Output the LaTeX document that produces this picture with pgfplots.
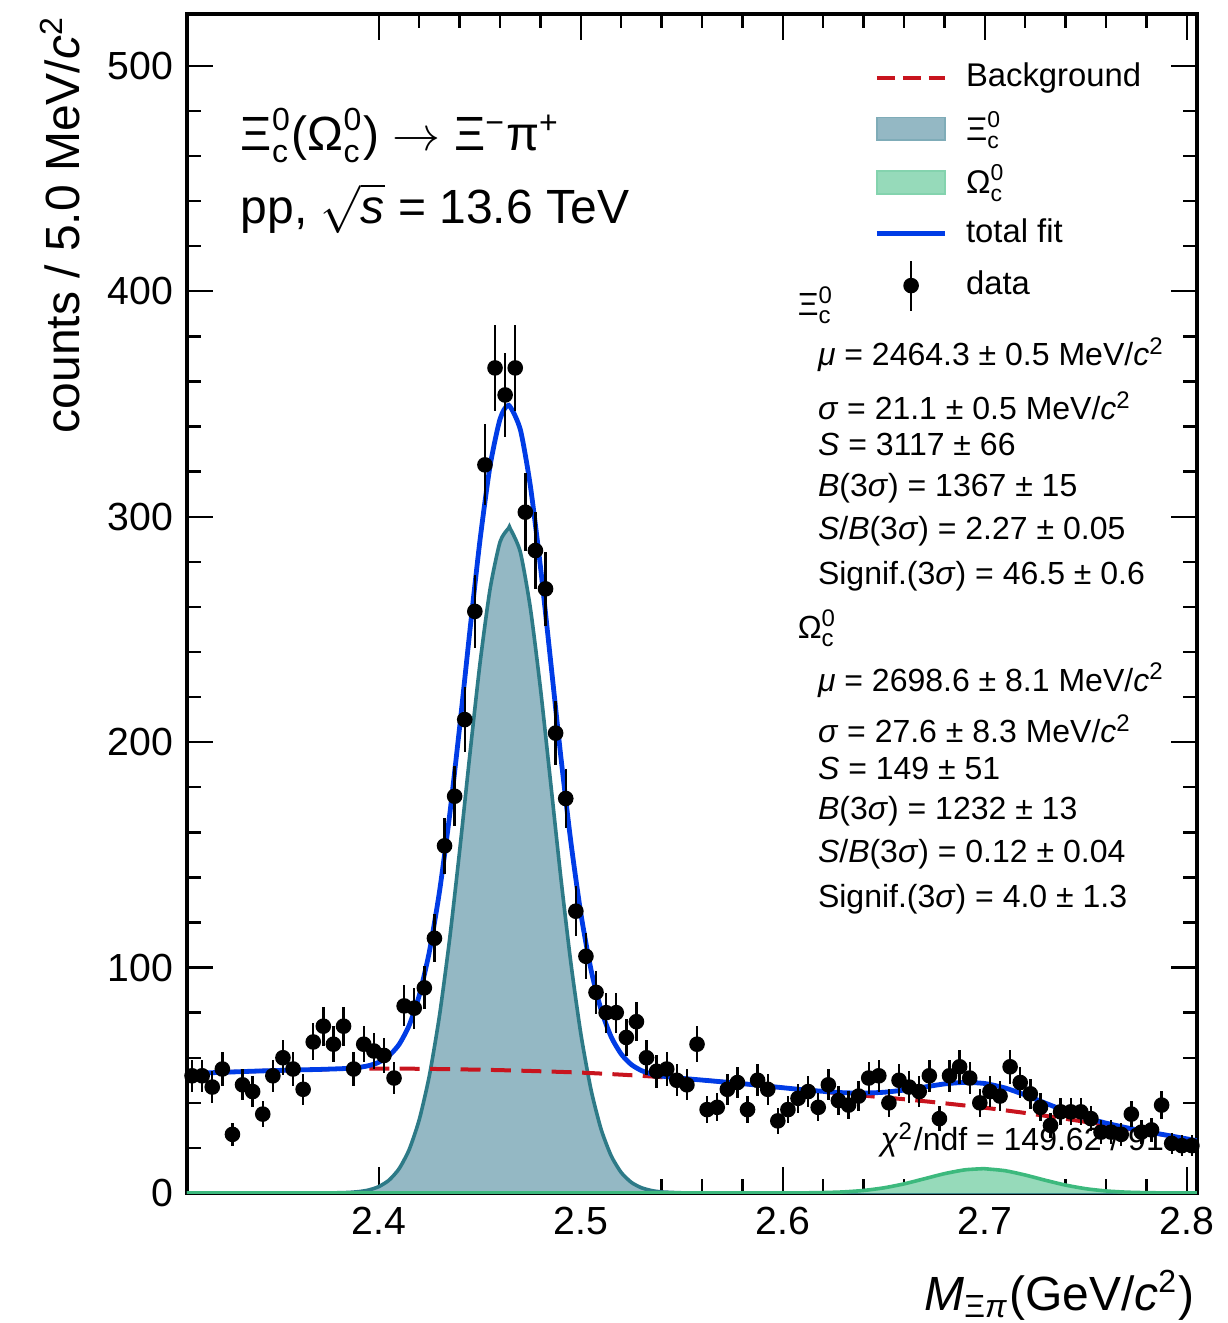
\documentclass[border=0pt]{standalone}
\usepackage{fontspec}
\setmainfont{Liberation Sans}
\usepackage{amsmath}
\usepackage{pgfplots}
\usepackage{pgfplotstable}
\pgfplotsset{compat=1.18}

\definecolor{tealfill}{RGB}{148,184,196}
\definecolor{tealline}{RGB}{45,122,135}
\definecolor{greenfill}{RGB}{150,218,186}
\definecolor{greenline}{RGB}{60,185,125}
\definecolor{bgred}{RGB}{200,20,30}
\definecolor{fitblue}{RGB}{0,60,230}

\newcommand{\Xic}{\ensuremath{\text{Ξ}^{\text{0}}_{\text{c}}}}
\newcommand{\Omc}{\ensuremath{\text{Ω}^{\text{0}}_{\text{c}}}}

% data: bin centre, counts, stat. error
\pgfplotstableread{
x y e
2.3075 52 7.2
2.3125 52 7.2
2.3175 47 6.9
2.3225 55 7.4
2.3275 26 5.1
2.3325 48 6.9
2.3375 45 6.7
2.3425 35 5.9
2.3475 52 7.2
2.3525 60 7.7
2.3575 55 7.4
2.3625 46 6.8
2.3675 67 8.2
2.3725 74 8.6
2.3775 66 8.1
2.3825 74 8.6
2.3875 55 7.4
2.3925 66 8.1
2.3975 63 7.9
2.4025 61 7.8
2.4075 51 7.1
2.4125 83 9.1
2.4175 82 9.1
2.4225 91 9.5
2.4275 113 10.6
2.4325 154 12.4
2.4375 176 13.3
2.4425 210 14.5
2.4475 258 16.1
2.4525 323 18.0
2.4575 366 19.1
2.4625 354 18.8
2.4675 366 19.1
2.4725 302 17.4
2.4775 285 16.9
2.4825 268 16.4
2.4875 204 14.3
2.4925 175 13.2
2.4975 125 11.2
2.5025 105 10.2
2.5075 89 9.4
2.5125 80 8.9
2.5175 80 8.9
2.5225 69 8.3
2.5275 76 8.7
2.5325 60 7.7
2.5375 54 7.3
2.5425 55 7.4
2.5475 50 7.1
2.5525 48 6.9
2.5575 66 8.1
2.5625 37 6.1
2.5675 38 6.2
2.5725 46 6.8
2.5775 49 7.0
2.5825 37 6.1
2.5875 50 7.1
2.5925 46 6.8
2.5975 32 5.7
2.6025 37 6.1
2.6075 42 6.5
2.6125 45 6.7
2.6175 38 6.2
2.6225 48 6.9
2.6275 41 6.4
2.6325 39 6.2
2.6375 43 6.6
2.6425 51 7.1
2.6475 52 7.2
2.6525 40 6.3
2.6575 50 7.1
2.6625 47 6.9
2.6675 45 6.7
2.6725 52 7.2
2.6775 33 5.7
2.6825 52 7.2
2.6875 56 7.5
2.6925 51 7.1
2.6975 40 6.3
2.7025 45 6.7
2.7075 43 6.6
2.7125 56 7.5
2.7175 49 7.0
2.7225 44 6.6
2.7275 38 6.2
2.7325 30 5.5
2.7375 36 6.0
2.7425 36 6.0
2.7475 36 6.0
2.7525 33 5.7
2.7575 27 5.2
2.7625 27 5.2
2.7675 26 5.1
2.7725 35 5.9
2.7775 27 5.2
2.7825 28 5.3
2.7875 39 6.2
2.7925 22 4.7
2.7975 21 4.6
2.8025 21 4.6
}\datatab

% Xi_c signal component
\pgfplotstableread{
x y
2.305 0
2.35 0
2.36 0.00
2.37 0.01
2.38 0.10
2.385 0.25
2.39 0.60
2.395 1.34
2.40 2.84
2.405 5.68
2.41 10.76
2.415 19.26
2.42 32.6
2.425 52.1
2.43 78.7
2.435 112.5
2.44 152.0
2.445 194.2
2.45 234.5
2.455 267.7
2.46 288.9
2.4643 295.0
2.465 294.8
2.47 284.4
2.475 259.4
2.48 223.7
2.485 182.3
2.49 140.5
2.495 102.4
2.50 70.5
2.505 45.9
2.51 28.3
2.515 16.5
2.52 9.06
2.525 4.70
2.53 2.32
2.535 1.08
2.54 0.47
2.55 0.08
2.56 0.01
2.57 0
2.805 0
}\xitab

% Omega_c signal component
\pgfplotstableread{
x y
2.305 0
2.59 0
2.60 0.02
2.61 0.06
2.62 0.19
2.63 0.49
2.64 1.13
2.65 2.29
2.66 4.05
2.67 6.30
2.68 8.58
2.69 10.26
2.6986 10.77
2.70 10.76
2.71 9.89
2.72 7.97
2.73 5.64
2.74 3.50
2.75 1.90
2.76 0.91
2.77 0.38
2.78 0.14
2.79 0.05
2.80 0.01
2.805 0
}\omtab

% background
\pgfplotstableread{
x y
2.305 53.0
2.32 53.45
2.34 54.1
2.36 54.6
2.38 55.0
2.40 55.2
2.42 55.1
2.44 54.85
2.46 54.5
2.48 54.0
2.50 53.4
2.52 52.5
2.54 51.4
2.56 50.1
2.58 48.5
2.60 46.7
2.62 44.9
2.64 43.2
2.66 41.6
2.68 39.8
2.70 37.8
2.72 35.5
2.74 32.9
2.76 30.1
2.78 27.1
2.80 24.0
2.805 23.2
}\bgtab

% total fit
\pgfplotstableread{
x y
2.305 53.0
2.32 53.45
2.34 54.1
2.36 54.6
2.37 54.8
2.38 55.1
2.385 55.3
2.39 55.7
2.395 56.5
2.40 58.0
2.405 60.9
2.41 65.9
2.415 74.4
2.42 87.7
2.425 107.1
2.43 133.7
2.435 167.4
2.44 206.9
2.445 249.0
2.45 289.2
2.455 322.3
2.46 343.4
2.4643 349.4
2.47 338.7
2.475 313.6
2.48 277.7
2.485 236.2
2.49 194.2
2.495 156.0
2.50 123.9
2.505 99.1
2.51 81.3
2.515 69.25
2.52 61.6
2.525 56.95
2.53 54.3
2.535 52.78
2.54 51.87
2.55 50.88
2.56 50.1
2.58 48.5
2.60 46.7
2.61 45.8
2.62 45.09
2.63 44.49
2.64 44.33
2.65 44.69
2.66 45.65
2.67 47.0
2.68 48.38
2.69 49.06
2.70 48.56
2.71 46.59
2.72 43.47
2.73 39.84
2.74 36.4
2.75 33.4
2.76 31.0
2.77 28.98
2.78 27.24
2.79 25.65
2.80 24.01
2.805 23.2
}\fittab

\begin{document}
\begin{tikzpicture}
\begin{axis}[
  scale only axis, width=252.5pt, height=294.75pt,
  xmin=2.305, xmax=2.805, ymin=0, ymax=523,
  xtick={2.4,2.5,2.6,2.7,2.8}, ytick={0,100,...,500},
  minor x tick num=4, minor y tick num=4,
  tick align=inside, major tick length=6.5pt, minor tick length=3.4pt,
  axis line style={line width=0.8pt}, tick style={line width=0.6pt, black},
  /pgf/number format/assume math mode=true,
  /pgf/number format/fixed,
  ticklabel style={font=\fontsize{9.8}{11}\selectfont},
  legend style={at={(rel axis cs:0.680,0.966)}, anchor=north west, draw=none, fill=none,
    font=\fontsize{8.2}{10}\selectfont, row sep=0.7pt, inner sep=0pt,
    /tikz/every odd column/.append style={column sep=2.6pt}},
  legend cell align=left,
]
\addlegendimage{bgred, line width=1pt, dash pattern=on 4.5pt off 2pt}
\addlegendentry{Background}
\addlegendimage{area legend, fill=tealfill, draw=tealfill!80!tealline}
\addlegendentry{\Xic}
\addlegendimage{area legend, fill=greenfill, draw=greenfill!80!greenline}
\addlegendentry{\Omc}
\addlegendimage{fitblue, line width=1.2pt}
\addlegendentry{total fit}
\addlegendimage{legend image code/.code={
  \draw[black, line width=0.6pt] (0.3cm,-0.22cm) -- (0.3cm,0.22cm);
  \fill[black] (0.3cm,0cm) circle (1.75pt);}}
\addlegendentry{data}

\addplot[forget plot, draw=tealline, line width=0.9pt, fill=tealfill, smooth, tension=0.4] table[x=x,y=y]{\xitab};
\addplot[forget plot, draw=greenline, line width=0.9pt, fill=greenfill, smooth, tension=0.4] table[x=x,y=y]{\omtab};
\addplot[forget plot, bgred, line width=1pt, dash pattern=on 5pt off 2.6pt, smooth] table[x=x,y=y]{\bgtab};
\addplot[forget plot, fitblue, line width=1.2pt, smooth, tension=0.4] table[x=x,y=y]{\fittab};

\node[anchor=west, inner sep=0pt, font=\fontsize{8}{10}\selectfont] at (rel axis cs:0.686,0.045)
  {\textit{χ}\textsuperscript{2}/ndf = 149.62 / 91};

\addplot[forget plot, only marks, mark=*, black, mark size=1.75pt,
  error bars/.cd, y dir=both, y explicit, error mark=none,
  error bar style={line width=0.6pt, black}]
  table[x=x,y=y,y error=e]{\datatab};

\node[anchor=west, inner sep=0pt, font=\fontsize{12}{14}\selectfont] at (rel axis cs:0.0525,0.897)
  {\Xic(\Omc) $\rightarrow$ Ξ\textsuperscript{−}π\textsuperscript{+}};
\node[anchor=west, inner sep=0pt, font=\fontsize{12}{14}\selectfont] at (rel axis cs:0.0525,0.835)
  {pp, $\sqrt{\text{\textit{s}}}$ = 13.6 TeV};

\begin{scope}[font=\fontsize{8}{10}\selectfont, every node/.style={anchor=west, inner sep=0pt}]
\node at (rel axis cs:0.604,0.753) {\Xic};
\node at (rel axis cs:0.624,0.711) {\textit{μ} = 2464.3 ± 0.5 MeV/\textit{c}\textsuperscript{2}};
\node at (rel axis cs:0.624,0.668) {\textit{σ} = 21.1 ± 0.5 MeV/\textit{c}\textsuperscript{2}};
\node at (rel axis cs:0.624,0.635) {\textit{S} = 3117 ± 66};
\node at (rel axis cs:0.624,0.598) {\textit{B}(3\textit{σ}) = 1367 ± 15};
\node at (rel axis cs:0.624,0.561) {\textit{S}/\textit{B}(3\textit{σ}) = 2.27 ± 0.05};
\node at (rel axis cs:0.624,0.523) {Signif.(3\textit{σ}) = 46.5 ± 0.6};
\node at (rel axis cs:0.604,0.479) {\Omc};
\node at (rel axis cs:0.624,0.435) {\textit{μ} = 2698.6 ± 8.1 MeV/\textit{c}\textsuperscript{2}};
\node at (rel axis cs:0.624,0.394) {\textit{σ} = 27.6 ± 8.3 MeV/\textit{c}\textsuperscript{2}};
\node at (rel axis cs:0.624,0.360) {\textit{S} = 149 ± 51};
\node at (rel axis cs:0.624,0.324) {\textit{B}(3\textit{σ}) = 1232 ± 13};
\node at (rel axis cs:0.624,0.287) {\textit{S}/\textit{B}(3\textit{σ}) = 0.12 ± 0.04};
\node at (rel axis cs:0.624,0.249) {Signif.(3\textit{σ}) = 4.0 ± 1.3};
\end{scope}
\end{axis}

\node[rotate=90, anchor=east, inner sep=0pt, font=\fontsize{12}{14}\selectfont]
  at ([xshift=-31.75pt, yshift=-0.3pt]current axis.north west)
  {counts / 5.0 MeV/\textit{c}\textsuperscript{2}};
\node[anchor=base east, inner sep=0pt, font=\fontsize{12}{14}\selectfont]
  at ([xshift=-0.5pt, yshift=-29.25pt]current axis.south east)
  {\textit{M}\textsubscript{Ξ\textit{π}}(GeV/\textit{c}\textsuperscript{2})};
\path ([xshift=-46.75pt, yshift=-32.5pt]current axis.south west)
  rectangle ([xshift=5.5pt, yshift=3.5pt]current axis.north east);
\end{tikzpicture}
\end{document}
